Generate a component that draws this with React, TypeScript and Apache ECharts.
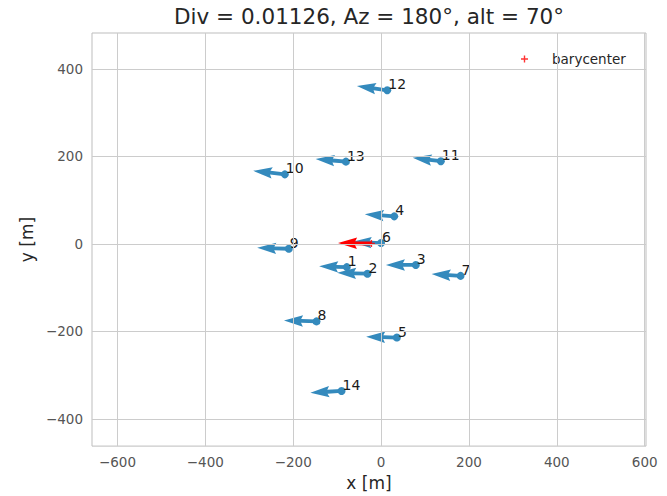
import React, { useEffect, useRef } from "react";
import * as echarts from "echarts";

// Station ids, positions [m] and horizontal displacement vectors
const stationIds = ["1", "2", "3", "4", "5", "6", "7", "8", "9", "10", "11", "12", "13", "14"];
const stationX = [-78, -31, 79, 30, 36, 0, 181, -147, -210, -219, 136, 14, -80, -90];
const stationY = [-53, -68, -48, 63, -214, 2, -73, -177, -11, 159, 189, 351, 188, -336];
const vectorU = [-63, -69, -68, -67, -70, -65, -66, -74, -72, -72, -64, -69, -69, -71];
const vectorV = [2, 2, 0, 5, 2, 3, 4, 2, 2, 8, 8, 10, 6, -4];

// Barycenter and its mean vector
const baryPoint = [-22, 1];
const baryVector = [-76, 1];

// Axes
const xRange = [-658, 603];
const yRange = [-462, 482];
const xTicks = [-600, -400, -200, 0, 200, 400, 600];
const yTicks = [-400, -200, 0, 200, 400];

const titleText = "Div = 0.01126, Az = 180°, alt = 70°";
const BLUE = "#348ABD";
const FONT = "DejaVu Sans";

const fmt = (v: number) => String(v).replace("-", "\u2212");

function arrowRenderer(color: string) {
  return (params: any, api: any) => {
    const x = api.value(0), y = api.value(1), u = api.value(2), v = api.value(3);
    const p0 = api.coord([x, y]);
    const p1 = api.coord([x + u, y + v]);
    const dx = p1[0] - p0[0], dy = p1[1] - p0[1];
    const L = Math.hypot(dx, dy);
    const ux = dx / L, uy = dy / L;
    const nx = -uy, ny = ux;
    const w = 3.8;
    const local = [
      [0, -w / 2], [L - 4.5 * w, -w / 2], [L - 5 * w, -1.5 * w], [L, 0],
      [L - 5 * w, 1.5 * w], [L - 4.5 * w, w / 2], [0, w / 2],
    ];
    const points = local.map(([a, b]) => [p0[0] + a * ux + b * nx, p0[1] + a * uy + b * ny]);
    return { type: "polygon", shape: { points }, style: { fill: color } };
  };
}

export default function App() {
  const ref = useRef<HTMLDivElement>(null);
  useEffect(() => {
    const chart = echarts.init(ref.current!, null, { renderer: "svg" });
    const stations = stationIds.map((id, i) => ({ name: id, value: [stationX[i], stationY[i]] }));
    const vectors = stationIds.map((_, i) => [stationX[i], stationY[i], vectorU[i], vectorV[i]]);
    const gridData = [
      ...xTicks.map((v) => ({ xAxis: v })),
      ...yTicks.map((v) => ({ yAxis: v })),
    ];
    chart.setOption({
      animation: false,
      backgroundColor: "#ffffff",
      textStyle: { fontFamily: FONT },
      title: {
        text: titleText,
        left: 369,
        textAlign: "center",
        top: 5,
        padding: 0,
        textStyle: { fontFamily: FONT, fontSize: 21.5, fontWeight: "normal", color: "#262626" },
      },
      legend: {
        data: ["barycenter"],
        left: 516,
        top: 47,
        itemWidth: 7,
        itemHeight: 7,
        icon: "path://M4,0h2v4h4v2h-4v4h-2v-4h-4v-2h4z",
        textStyle: { fontFamily: FONT, fontSize: 13.5, color: "#262626", padding: [0, 0, 0, 19] },
      },
      grid: {
        left: 92, right: 21, top: 33, bottom: 47,
        show: true, borderColor: "#bdbdbd", borderWidth: 1, backgroundColor: "#ffffff",
      },
      xAxis: {
        type: "value",
        min: xRange[0],
        max: xRange[1],
        name: "x [m]",
        nameLocation: "middle",
        nameGap: 25,
        nameTextStyle: { fontFamily: FONT, fontSize: 17, color: "#262626" },
        axisLine: { show: false },
        axisTick: { show: false },
        splitLine: { show: false },
        axisLabel: {
          customValues: xTicks,
          formatter: fmt,
          fontFamily: FONT,
          fontSize: 13.5,
          color: "#555555",
          margin: 9,
        },
      },
      yAxis: {
        type: "value",
        min: yRange[0],
        max: yRange[1],
        name: "y [m]",
        nameLocation: "middle",
        nameGap: 52,
        nameTextStyle: { fontFamily: FONT, fontSize: 17, color: "#262626" },
        axisLine: { show: false },
        axisTick: { show: false },
        splitLine: { show: false },
        axisLabel: {
          customValues: yTicks,
          formatter: fmt,
          fontFamily: FONT,
          fontSize: 13.5,
          color: "#555555",
          margin: 9,
        },
      },
      series: [
        {
          type: "scatter",
          name: "grid",
          data: [],
          z: 0,
          silent: true,
          markLine: {
            silent: true,
            symbol: "none",
            label: { show: false },
            lineStyle: { color: "#cccccc", width: 1, type: "solid" },
            emphasis: { disabled: true },
            data: gridData,
          },
        },
        {
          type: "custom",
          name: "vectors",
          renderItem: arrowRenderer(BLUE),
          encode: { x: 0, y: 1 },
          data: vectors,
          z: 2,
          silent: true,
        },
        {
          type: "scatter",
          name: "stations",
          data: stations,
          symbolSize: 8,
          itemStyle: { color: BLUE, opacity: 1 },
          z: 3,
          silent: true,
          labelLayout: { hideOverlap: false },
          label: {
            show: true,
            position: [5, 5],
            align: "left",
            verticalAlign: "bottom",
            formatter: (p: any) => p.name,
            fontFamily: FONT,
            fontSize: 14,
            color: "#1a1a1a",
            textBorderWidth: 0,
          },
        },
        {
          type: "scatter",
          name: "barycenter",
          data: [baryPoint],
          symbol: "path://M4,0h2v4h4v2h-4v4h-2v-4h-4v-2h4z",
          symbolSize: 7,
          itemStyle: { color: "#ff0000" },
          z: 3,
          silent: true,
        },
        {
          type: "custom",
          name: "baryVector",
          renderItem: arrowRenderer("#ff0000"),
          encode: { x: 0, y: 1 },
          data: [[baryPoint[0], baryPoint[1], baryVector[0], baryVector[1]]],
          z: 4,
          silent: true,
        },
      ],
    });
    return () => chart.dispose();
  }, []);
  return (
    <div
      ref={ref}
      style={{ position: "fixed", left: 0, top: 0, width: 667, height: 496, background: "#fff" }}
    />
  );
}
